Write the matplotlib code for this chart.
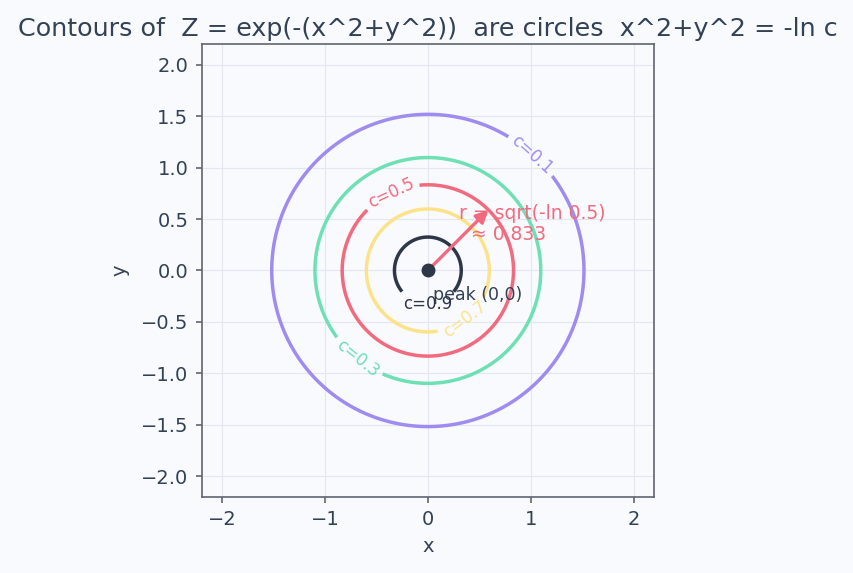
import numpy as np
import matplotlib.pyplot as plt

levels = [0.1, 0.3, 0.5, 0.7, 0.9]
level_colors = ["#a08cf0", "#6ee0b4", "#f26a7e", "#fce38a", "#2d3748"]
label_spots = [(1.05, 1.17), (-0.68, -0.85), (-0.36, 0.76), (0.35, -0.47), (0.0, -0.34)]
arrow_level = 0.5
peak = (0.0, 0.0)

bg = "#f9fafe"
ink = "#334155"

x = np.linspace(-2.2, 2.2, 500)
y = np.linspace(-2.2, 2.2, 500)
X, Y = np.meshgrid(x, y)
Z = np.exp(-(X**2 + Y**2))

fig = plt.figure(figsize=(8.54, 5.73), dpi=100, facecolor=bg)
ax = fig.add_axes([0.235, 0.133, 0.532, 0.79])
ax.set_facecolor(bg)

cs = ax.contour(X, Y, Z, levels=levels, colors=level_colors, linewidths=2.5)
lbls = ax.clabel(cs, fmt=lambda v: "c=%g" % v, fontsize=12, inline=True,
                 manual=label_spots)

r = np.sqrt(-np.log(arrow_level))
ax.annotate("", xy=(r / np.sqrt(2), r / np.sqrt(2)), xytext=peak,
            arrowprops=dict(arrowstyle="-|>", color="#f26a7e", lw=2.4,
                            mutation_scale=18, shrinkA=0, shrinkB=0))
ax.text(0.3, 0.45, "r = sqrt(-ln 0.5)\n  ≈ 0.833", color="#f26a7e",
        fontsize=13.5, ha="left", va="center", linespacing=1.1)
ax.plot(*peak, "o", color="#2d3748", ms=9, zorder=5)
ax.text(0.05, -0.24, "peak (0,0)", color=ink, fontsize=12.5, ha="left", va="center")

ax.set_xlim(-2.2, 2.2)
ax.set_ylim(-2.2, 2.2)
ax.set_aspect("equal")
ax.set_xticks([-2, -1, 0, 1, 2])
ax.set_yticks(np.arange(-2, 2.01, 0.5))
ax.grid(True, color="#e3e7ef", lw=0.8)
ax.set_axisbelow(True)
for s in ax.spines.values():
    s.set_color("#5f6470")
    s.set_linewidth(1.2)
ax.tick_params(color="#5f6470", labelcolor=ink, labelsize=14, length=4.5, width=1.2, pad=5)
ax.set_xlabel("x", color=ink, fontsize=14, labelpad=6)
ax.set_ylabel("y", color=ink, fontsize=14, labelpad=8)
ax.set_title("Contours of  Z = exp(-(x^2+y^2))  are circles  x^2+y^2 = -ln c",
             color=ink, fontsize=18.3)

fig.savefig("out.png", dpi=100, facecolor=bg)
